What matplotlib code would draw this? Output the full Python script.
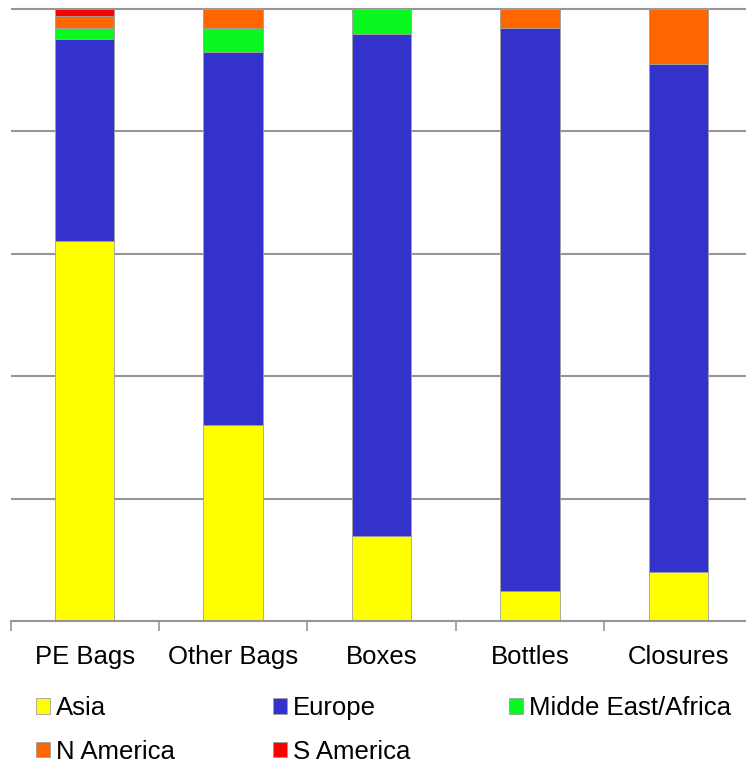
"""
Regional share of plastic packaging demand by product type (100% stacked bars).
"""

import numpy as np
import matplotlib.pyplot as plt

categories = ["PE Bags", "Other Bags", "Boxes", "Bottles", "Closures"]
regions = ["Asia", "Europe", "Midde East/Africa", "N America", "S America"]

# share of each region per product (fractions, stacked bottom to top)
asia = [0.620, 0.320, 0.139, 0.049, 0.080]
europe = [0.331, 0.610, 0.820, 0.920, 0.830]
mea = [0.018, 0.039, 0.041, 0.000, 0.000]
n_america = [0.019, 0.031, 0.000, 0.031, 0.090]
s_america = [0.012, 0.000, 0.000, 0.000, 0.000]

colors = ["#FFFF00", "#3333CC", "#08F820", "#FF6600", "#FF0000"]


def main():
    plt.rcParams["font.family"] = ["Liberation Sans", "DejaVu Sans"]

    fig = plt.figure(figsize=(7.46, 7.66), dpi=100)
    ax = fig.add_axes([10.5 / 746, 145 / 766, 742 / 746, 614 / 766])

    x = np.arange(len(categories))
    series = [asia, europe, mea, n_america, s_america]
    bottom = np.zeros(len(categories))
    handles = []
    for name, vals, col in zip(regions, series, colors):
        vals = np.array(vals)
        h = ax.bar(x, vals, width=0.4, bottom=bottom, color=col,
                   edgecolor="#A0A0A0", linewidth=0.6, label=name)
        handles.append(h)
        bottom += vals

    ax.set_xlim(-0.5, len(categories) - 0.5)
    ax.set_ylim(0, 1.003)
    ax.set_yticks([0.2, 0.4, 0.6, 0.8, 1.0])
    ax.tick_params(axis="y", left=False, labelleft=False)
    ax.yaxis.grid(True, color="#969696", linewidth=1.5)
    ax.set_axisbelow(True)

    ax.set_xticks(x)
    ax.set_xticklabels(categories, fontsize=18.5)
    ax.set_xticks(np.arange(-0.5, len(categories)), minor=True)
    ax.tick_params(axis="x", which="major", length=0, pad=17)
    ax.tick_params(axis="x", which="minor", length=7, width=1.2, color="#969696")

    for side in ["top", "right", "left"]:
        ax.spines[side].set_visible(False)
    ax.spines["bottom"].set_color("#969696")
    ax.spines["bottom"].set_linewidth(1.5)

    # column-major fill so entries read left to right across two rows
    order = [0, 3, 1, 4, 2]
    fig.legend([handles[i] for i in order], [regions[i] for i in order],
               loc="upper left", bbox_to_anchor=(36 / 746, (766 - 696) / 766),
               ncol=3, frameon=False, fontsize=18.5, borderpad=0, borderaxespad=0,
               handlelength=0.55, handleheight=0.55, handletextpad=0.23,
               labelspacing=0.76, columnspacing=3.82)

    fig.savefig("out.png", dpi=100)


if __name__ == "__main__":
    main()
